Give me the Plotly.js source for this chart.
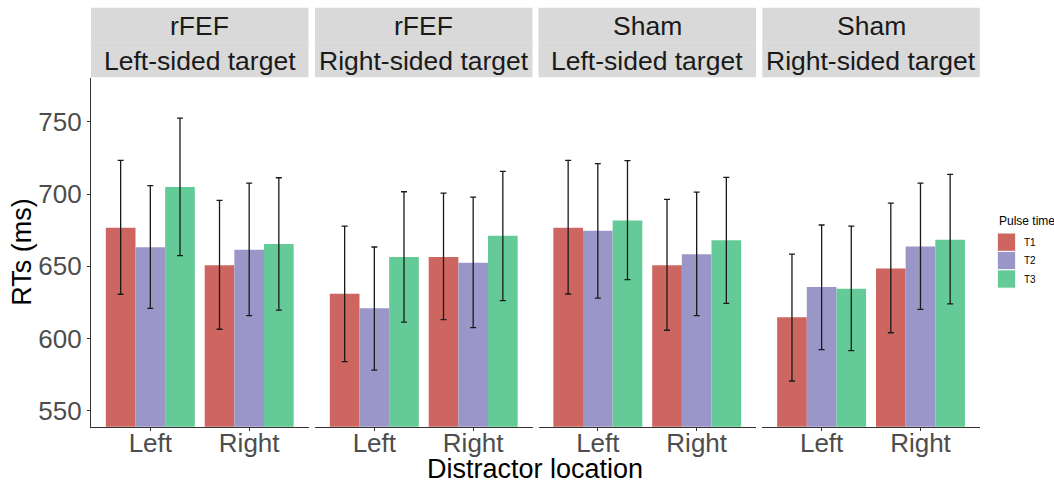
<!DOCTYPE html>
<html>
<head>
<meta charset="utf-8">
<script src="https://cdn.plot.ly/plotly-3.0.1.min.js"></script>
<style>
  html, body { margin: 0; padding: 0; background: #ffffff; }
  #chart { width: 1054px; height: 483px; }
</style>
</head>
<body>
<div id="chart"></div>
<script>
// Facet labels (stimulation site / target side)
const stimulation = ['rFEF', 'rFEF', 'Sham', 'Sham'];
const targetSide = ['Left-sided target', 'Right-sided target', 'Left-sided target', 'Right-sided target'];
const distractor = ['Left', 'Right'];
const pulseTimes = ['T1', 'T2', 'T3'];
const pulseColors = ['#cd6661', '#9a97c8', '#64cb98'];

// Mean RTs and error-bar limits, ordered facet by facet, Left then Right distractor
const rtT1 = [676.7, 650.7, 631.1, 656.5, 676.7, 650.7, 614.8, 648.6];
const upperT1 = [723.3, 695.7, 677.9, 700.7, 723.3, 696.3, 658.5, 693.8];
const lowerT1 = [630.7, 606.5, 584.1, 613.1, 630.9, 605.8, 570.7, 604.1];

const rtT2 = [663.2, 661.5, 621.0, 652.5, 674.6, 658.3, 635.7, 663.8];
const upperT2 = [705.8, 707.6, 663.4, 697.9, 721.0, 701.4, 678.6, 707.6];
const lowerT2 = [621.0, 615.9, 578.3, 607.6, 628.1, 615.9, 592.4, 620.3];

const rtT3 = [704.9, 665.4, 656.5, 671.2, 681.8, 668.0, 634.6, 668.4];
const upperT3 = [752.6, 711.3, 701.6, 715.7, 723.1, 711.5, 677.9, 713.6];
const lowerT3 = [657.4, 619.8, 611.5, 626.3, 640.8, 624.4, 591.7, 624.0];

const yTicks = [550, 600, 650, 700, 750];

const means = [rtT1, rtT2, rtT3];
const uppers = [upperT1, upperT2, upperT3];
const lowers = [lowerT1, lowerT2, lowerT3];

// page geometry in pixels -> paper coordinates
const W = 1054, H = 483;
const px = x => x / W;
const py = y => 1 - y / H;

const panelLeft = [91, 315, 538.5, 762.3];
const panelWidth = 217.5;
const panelTop = 77.7, panelBottom = 426.7;
const FONT = 'Liberation Sans, Arial, Helvetica, sans-serif';

const traces = [];
for (let f = 0; f < 4; f++) {
  const xa = f === 0 ? 'x' : 'x' + (f + 1);
  const ya = f === 0 ? 'y' : 'y' + (f + 1);
  for (let p = 0; p < 3; p++) {
    const m = means[p].slice(f * 2, f * 2 + 2);
    const u = uppers[p].slice(f * 2, f * 2 + 2);
    const l = lowers[p].slice(f * 2, f * 2 + 2);
    traces.push({
      type: 'bar',
      x: distractor,
      y: m,
      base: 0,
      name: pulseTimes[p],
      xaxis: xa,
      yaxis: ya,
      marker: { color: pulseColors[p], line: { width: 0 } },
      error_y: {
        type: 'data',
        symmetric: false,
        array: u.map((v, i) => v - m[i]),
        arrayminus: m.map((v, i) => v - l[i]),
        color: '#1a1a1a',
        thickness: 1.3,
        width: 3
      },
      showlegend: false,
      hoverinfo: 'skip'
    });
  }
}

const layout = {
  width: W,
  height: H,
  margin: { l: 0, r: 0, t: 0, b: 0 },
  paper_bgcolor: '#ffffff',
  plot_bgcolor: 'rgba(0,0,0,0)',
  barmode: 'group',
  bargap: 0.1,
  bargroupgap: 0,
  showlegend: false,
  font: { family: FONT, color: '#1a1a1a' },
  shapes: [],
  annotations: []
};

for (let f = 0; f < 4; f++) {
  const sfx = f === 0 ? '' : String(f + 1);
  const x0 = panelLeft[f], x1 = panelLeft[f] + panelWidth;
  layout['xaxis' + sfx] = {
    domain: [px(x0), px(x1)],
    anchor: 'y' + sfx,
    type: 'category',
    range: [-0.6, 1.6],
    showline: true,
    linecolor: '#333333',
    linewidth: 1.1,
    ticks: 'outside',
    ticklen: 3,
    tickwidth: 1.1,
    tickcolor: '#333333',
    ticklabelstandoff: -10,
    showgrid: false,
    zeroline: false,
    tickfont: { family: FONT, size: 26, color: '#4d4d4d' },
    fixedrange: true
  };
  layout['yaxis' + sfx] = {
    domain: [py(panelBottom), py(panelTop)],
    anchor: 'x' + sfx,
    range: [539.1, 780.5],
    showline: f === 0,
    linecolor: '#333333',
    linewidth: 1.1,
    ticks: f === 0 ? 'outside' : '',
    ticklen: 3,
    tickwidth: 1.1,
    tickcolor: '#333333',
    tickvals: yTicks,
    showticklabels: f === 0,
    showgrid: false,
    zeroline: false,
    tickfont: { family: FONT, size: 26, color: '#4d4d4d' },
    fixedrange: true
  };

  // facet strips: two stacked rows
  layout.shapes.push({
    type: 'rect', xref: 'paper', yref: 'paper',
    x0: px(x0), x1: px(x1), y0: py(77.2), y1: py(7.7),
    fillcolor: '#d9d9d9', line: { width: 0 }, layer: 'below'
  });
  layout.shapes.push({
    type: 'line', xref: 'paper', yref: 'paper',
    x0: px(x0), x1: px(x1), y0: py(42.7), y1: py(42.7),
    line: { color: '#e1e1e1', width: 0.8 }, layer: 'below'
  });
  layout.annotations.push({
    xref: 'paper', yref: 'paper', x: px((x0 + x1) / 2), y: py(26),
    text: stimulation[f], showarrow: false,
    xanchor: 'center', yanchor: 'middle',
    font: { family: FONT, size: 26.5, color: '#1a1a1a' }
  });
  layout.annotations.push({
    xref: 'paper', yref: 'paper', x: px((x0 + x1) / 2), y: py(61),
    text: targetSide[f], showarrow: false,
    xanchor: 'center', yanchor: 'middle',
    font: { family: FONT, size: 26.5, color: '#1a1a1a' }
  });
}

// axis titles
layout.annotations.push({
  xref: 'paper', yref: 'paper', x: px((panelLeft[0] + panelLeft[3] + panelWidth) / 2), y: py(469),
  text: 'Distractor location', showarrow: false, borderpad: 0,
  xanchor: 'center', yanchor: 'middle',
  font: { family: FONT, size: 27, color: '#000000' }
});
layout.annotations.push({
  xref: 'paper', yref: 'paper', x: px(22.5), y: py((panelTop + panelBottom) / 2),
  text: 'RTs (ms)', showarrow: false, textangle: -90,
  xanchor: 'center', yanchor: 'middle',
  font: { family: FONT, size: 27, color: '#000000' }
});

// legend: Pulse time
layout.annotations.push({
  xref: 'paper', yref: 'paper', x: px(996.5), y: py(221),
  text: 'Pulse time', showarrow: false,
  xanchor: 'left', yanchor: 'middle',
  font: { family: FONT, size: 12, color: '#000000' }
});
const keyTop = 233, keySize = 18.4;
for (let p = 0; p < 3; p++) {
  const y0 = keyTop + p * keySize;
  layout.shapes.push({
    type: 'rect', xref: 'paper', yref: 'paper',
    x0: px(997.3), x1: px(1015.7), y0: py(y0 + keySize), y1: py(y0),
    fillcolor: pulseColors[p], line: { color: '#ffffff', width: 1 }
  });
  layout.annotations.push({
    xref: 'paper', yref: 'paper', x: px(1021.5), y: py(y0 + keySize / 2),
    text: pulseTimes[p], showarrow: false,
    xanchor: 'left', yanchor: 'middle',
    font: { family: FONT, size: 10, color: '#000000' }
  });
}

Plotly.newPlot('chart', traces, layout, { displayModeBar: false, staticPlot: true });
</script>
</body>
</html>
